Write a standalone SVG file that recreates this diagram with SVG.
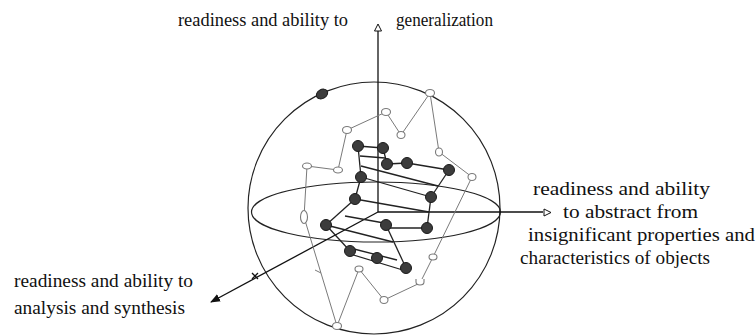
<svg xmlns="http://www.w3.org/2000/svg" width="756" height="336" viewBox="0 0 756 336">
<style>
.t{font-family:'Liberation Serif','DejaVu Serif',serif;font-size:18px;fill:#111}
.frame{fill:none;stroke:#222;stroke-width:1.2}
.axis{fill:none;stroke:#111;stroke-width:1.3}
.dk{fill:none;stroke:#222;stroke-width:1.3}
.gr{fill:none;stroke:#7a7a7a;stroke-width:1}
.dot{fill:#3c3c3c;stroke:#1a1a1a;stroke-width:1}
.open{fill:#fff;stroke:#7a7a7a;stroke-width:1.1}
</style>
<defs>
<marker id="fill-arrow" viewBox="0 0 10 10" refX="9" refY="5" markerWidth="10" markerHeight="10" markerUnits="userSpaceOnUse" orient="auto">
<path d="M0,1 L10,5 L0,9 Z" fill="#111"/>
</marker>
</defs>
<rect width="756" height="336" fill="#fff"/>

<g id="sphere">
<circle class="frame" cx="374" cy="208" r="126"/>
<ellipse class="frame" cx="376" cy="212" rx="124.5" ry="30"/>
</g>

<g id="connectors">
<line class="axis" x1="378" y1="31" x2="378" y2="212"/>
<polygon points="374.5,31 378,24 381.5,31" fill="#fff" stroke="#111" stroke-width="1"/>
<line class="axis" x1="378" y1="212" x2="543" y2="212"/>
<polygon points="544,209 551,212.5 544,216" fill="#fff" stroke="#111" stroke-width="1"/>
<line class="axis" x1="378" y1="212" x2="211" y2="302" marker-end="url(#fill-arrow)"/>
<path class="axis" d="M252,273 l6,6 M258,273 l-6,6" stroke-width="0.8"/>

<polyline class="gr" points="307,166 338,170 347,130 386,112 401,135 430,93 439,152 472,177 433,257 420,283 384,300 359,269 337,326 304,217 307,166"/>
<path class="gr" d="M315,270 l6,3"/>

<line class="dk" x1="358" y1="146" x2="383" y2="148"/>
<line class="dk" x1="383" y1="148" x2="387" y2="164"/>
<line class="dk" x1="387" y1="164" x2="407" y2="163"/>
<line class="dk" x1="407" y1="163" x2="449" y2="170"/>
<line class="dk" x1="449" y1="170" x2="431" y2="197"/>
<line class="dk" x1="431" y1="197" x2="427" y2="228"/>
<line class="dk" x1="427" y1="228" x2="386" y2="228"/>
<line class="dk" x1="358" y1="146" x2="361" y2="177"/>
<line class="dk" x1="360" y1="156" x2="385" y2="158"/>
<line class="dk" x1="361" y1="166" x2="438" y2="186"/>
<line class="dk" x1="361" y1="177" x2="431" y2="197"/>
<line class="dk" x1="361" y1="177" x2="355" y2="199"/>
<line class="dk" x1="355" y1="199" x2="326" y2="225"/>
<line class="dk" x1="355" y1="199" x2="429" y2="212"/>
<line class="dk" x1="345" y1="216" x2="384" y2="223"/>
<line class="dk" x1="326" y1="225" x2="393" y2="242"/>
<line class="dk" x1="386" y1="225" x2="406" y2="268"/>
<line class="dk" x1="326" y1="225" x2="350" y2="251"/>
<line class="dk" x1="350" y1="254" x2="406" y2="271"/>
<line class="dk" x1="350" y1="248" x2="397" y2="260"/>
</g>

<g id="open-points">
<ellipse class="open" cx="430" cy="93" rx="4.5" ry="3.5"/>
<ellipse class="open" cx="386" cy="112" rx="4.5" ry="3.5"/>
<ellipse class="open" cx="347" cy="130" rx="4.5" ry="3.5"/>
<ellipse class="open" cx="401" cy="135" rx="4" ry="3.5"/>
<ellipse class="open" cx="439" cy="152" rx="3.5" ry="4"/>
<ellipse class="open" cx="307" cy="166" rx="4.5" ry="3"/>
<ellipse class="open" cx="338" cy="170" rx="4.5" ry="3"/>
<ellipse class="open" cx="472" cy="177" rx="4" ry="3.5"/>
<ellipse class="open" cx="304" cy="217" rx="3.5" ry="6.5"/>
<ellipse class="open" cx="433" cy="257" rx="4" ry="3"/>
<path class="open" d="M416,279 v3 a4,3 0 0 0 8,0 v-3"/>
<ellipse class="open" cx="384" cy="300" rx="4" ry="3.5"/>
<ellipse class="open" cx="359" cy="269" rx="4" ry="3"/>
<ellipse class="open" cx="337" cy="326" rx="4.5" ry="3.5"/>
</g>

<g id="dark-points">
<ellipse class="dot" cx="322" cy="94" rx="6" ry="4.5" transform="rotate(-30 322 94)"/>
<circle class="dot" cx="358" cy="146" r="5.5"/>
<circle class="dot" cx="383" cy="148" r="5.5"/>
<circle class="dot" cx="387" cy="164" r="5.5"/>
<circle class="dot" cx="407" cy="163" r="5.5"/>
<circle class="dot" cx="449" cy="170" r="5.5"/>
<circle class="dot" cx="361" cy="177" r="5.5"/>
<circle class="dot" cx="355" cy="199" r="5.5"/>
<circle class="dot" cx="431" cy="197" r="5.5"/>
<circle class="dot" cx="326" cy="225" r="5.5"/>
<circle class="dot" cx="386" cy="225" r="5.5"/>
<circle class="dot" cx="427" cy="228" r="5.5"/>
<circle class="dot" cx="350" cy="251" r="5.5"/>
<circle class="dot" cx="377" cy="258" r="5.5"/>
<circle class="dot" cx="406" cy="268" r="5.5"/>
</g>

<g id="label-generalization" font-family="'Liberation Serif','DejaVu Serif',serif">
<text class="t" x="178" y="26" textLength="170" lengthAdjust="spacingAndGlyphs">readiness and ability to</text>
<text class="t" x="396" y="26" textLength="97" lengthAdjust="spacingAndGlyphs">generalization</text>
</g>

<g id="label-abstract" font-family="'Liberation Serif','DejaVu Serif',serif">
<text class="t" x="533" y="195" textLength="177" lengthAdjust="spacingAndGlyphs">readiness and ability</text>
<text class="t" x="563" y="218" textLength="135" lengthAdjust="spacingAndGlyphs">to abstract from</text>
<text class="t" x="528" y="241" textLength="227" lengthAdjust="spacingAndGlyphs">insignificant properties and</text>
<text class="t" x="520" y="264" textLength="190" lengthAdjust="spacingAndGlyphs">characteristics of objects</text>
</g>

<g id="label-analysis" font-family="'Liberation Serif','DejaVu Serif',serif">
<text class="t" x="14" y="287" textLength="179" lengthAdjust="spacingAndGlyphs">readiness and ability to</text>
<text class="t" x="14" y="314" textLength="171" lengthAdjust="spacingAndGlyphs">analysis and synthesis</text>
</g>
</svg>
